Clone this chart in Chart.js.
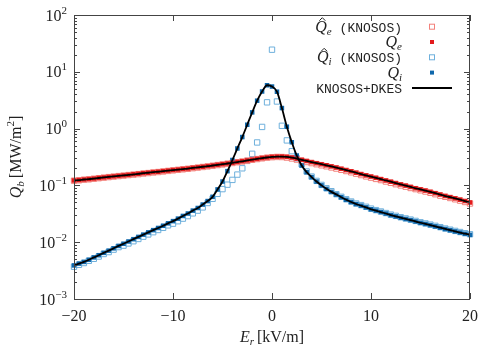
<!DOCTYPE html>
<html>
<head>
<meta charset="utf-8">
<script src="https://cdn.jsdelivr.net/npm/chart.js@4"></script>
<style>html,body{margin:0;background:#fff}</style>
</head>
<body>
<canvas id="c" width="498" height="349"></canvas>
<script>
// E_r grid (kV/m)
const er = [
  -20,-19.5,-19,-18.5,-18,-17.5,-17,-16.5,-16,-15.5,
  -15,-14.5,-14,-13.5,-13,-12.5,-12,-11.5,-11,-10.5,
  -10,-9.5,-9,-8.5,-8,-7.5,-7,-6.5,-6,-5.5,
  -5,-4.5,-4,-3.5,-3,-2.5,-2,-1.5,-1,-0.5,
  0,
  0.5,1,1.5,2,2.5,3,3.5,4,4.5,5,
  5.5,6,6.5,7,7.5,8,8.5,9,9.5,10,
  10.5,11,11.5,12,12.5,13,13.5,14,14.5,15,
  15.5,16,16.5,17,17.5,18,18.5,19,19.5,20
];
// Q_e (KNOSOS+DKES)
const qe = [
  0.122,0.124,0.127,0.129,0.132,0.135,0.138,0.141,0.144,0.147,
  0.150,0.153,0.157,0.160,0.164,0.167,0.171,0.174,0.178,0.182,
  0.186,0.190,0.194,0.198,0.203,0.208,0.213,0.218,0.224,0.230,
  0.236,0.243,0.250,0.258,0.266,0.275,0.284,0.293,0.302,0.310,
  0.317,
  0.321,0.322,0.318,0.309,0.296,0.282,0.269,0.257,0.246,0.236,
  0.226,0.216,0.206,0.196,0.186,0.177,0.167,0.158,0.150,0.143,
  0.136,0.129,0.122,0.116,0.110,0.104,0.099,0.094,0.089,0.085,
  0.081,0.077,0.073,0.069,0.065,0.062,0.059,0.056,0.053,0.050
];
// Q_e hat (KNOSOS)
const qeHat = [
  0.121,0.123,0.126,0.128,0.131,0.134,0.137,0.140,0.143,0.146,
  0.149,0.152,0.155,0.158,0.162,0.165,0.169,0.172,0.176,0.180,
  0.184,0.188,0.192,0.196,0.201,0.206,0.211,0.216,0.222,0.228,
  0.234,0.241,0.248,0.256,0.264,0.273,0.282,0.291,0.300,0.308,
  0.314,
  0.317,0.316,0.309,0.298,0.285,0.271,0.258,0.247,0.236,0.226,
  0.217,0.207,0.198,0.188,0.179,0.170,0.161,0.152,0.144,0.137,
  0.130,0.124,0.117,0.111,0.105,0.100,0.095,0.090,0.086,0.082,
  0.078,0.074,0.070,0.066,0.063,0.060,0.057,0.054,0.051,0.048
];
// Q_i (KNOSOS+DKES)
const qi = [
  0.0039,0.0042,0.0045,0.0049,0.0054,0.0059,0.0065,0.0071,0.0078,0.0086,
  0.0094,0.0103,0.0113,0.0124,0.0136,0.0149,0.0163,0.0178,0.0195,0.0215,
  0.0235,0.0260,0.0290,0.0320,0.0360,0.0400,0.0460,0.0530,0.0630,0.0850,
  0.117,0.178,0.280,0.447,0.710,1.17,1.93,3.10,4.50,5.80,
  5.50,
  4.46,2.30,1.08,0.575,0.336,0.224,0.171,0.140,0.117,0.100,
  0.087,0.077,0.069,0.062,0.056,0.051,0.047,0.044,0.041,0.038,
  0.036,0.034,0.032,0.030,0.0285,0.027,0.0257,0.0245,0.0232,0.022,
  0.021,0.020,0.019,0.018,0.0171,0.0163,0.0155,0.0148,0.0141,0.0135
];
// Q_i hat (KNOSOS)
const qiHat = [
  0.0037,0.0040,0.0043,0.0047,0.0051,0.0056,0.0062,0.0067,0.0074,0.0082,
  0.0087,0.0095,0.0104,0.0114,0.0125,0.0137,0.0150,0.0164,0.0179,0.0198,
  0.0212,0.0234,0.0260,0.0288,0.0322,0.0360,0.0410,0.0490,0.0580,0.0710,
  0.086,0.103,0.125,0.155,0.200,0.270,0.360,0.570,1.07,2.90,
  24.5,
  3.00,1.12,0.62,0.40,0.30,0.235,0.176,0.143,0.120,0.102,
  0.089,0.079,0.070,0.063,0.057,0.052,0.048,0.045,0.042,0.039,
  0.0367,0.0347,0.0326,0.0306,0.0291,0.0275,0.0262,0.025,0.0237,0.0224,
  0.0214,0.0204,0.0194,0.0184,0.0174,0.0166,0.0158,0.0151,0.0144,0.0138
];
const xTicks = [-20, -10, 0, 10, 20];
const xLabels = ["\u221220", "\u221210", "0", "10", "20"];
const yTicks = [1e-3, 1e-2, 1e-1, 1, 10, 100];
const yExp = ["\u22123", "\u22122", "\u22121", "0", "1", "2"];

const redDark = "#e31a1c", redLight = "#f3817b";
const blueDark = "#0f67ab", blueLight = "#6eb0dc";
const serif = '"Liberation Serif", "DejaVu Serif", serif';
const mono = '"Liberation Mono", "DejaVu Sans Mono", monospace';

const pts = (arr) => er.map((e, i) => ({ x: e, y: arr[i] }));

// draw text pieces one after the other, aligned as a block
function rich(ctx, segs, x, y, align) {
  let w = 0;
  segs.forEach((s) => {
    ctx.font = s.font;
    s.w = ctx.measureText(s.t).width;
    w += s.w + (s.gap || 0);
  });
  let cx = align === "right" ? x - w : align === "center" ? x - w / 2 : x;
  segs.forEach((s) => {
    ctx.font = s.font;
    ctx.fillText(s.t, cx, y + (s.dy || 0));
    if (s.hat) {
      // small circumflex over the Q
      const hx = cx + s.w * 0.62, hy = y - 13;
      ctx.save();
      ctx.strokeStyle = ctx.fillStyle;
      ctx.lineWidth = 1;
      ctx.beginPath();
      ctx.moveTo(hx - 3, hy + 2);
      ctx.lineTo(hx, hy - 1);
      ctx.lineTo(hx + 3, hy + 2);
      ctx.stroke();
      ctx.restore();
    }
    cx += s.w + (s.gap || 0);
  });
}

const frame = {
  id: "frame",
  afterDraw(chart) {
    const { ctx, chartArea: a, scales } = chart;
    const sx = scales.x, sy = scales.y;
    ctx.save();
    ctx.strokeStyle = "#444";
    ctx.lineWidth = 1;
    ctx.strokeRect(a.left + 0.5, a.top + 0.5, a.right - a.left - 1, a.bottom - a.top);
    ctx.beginPath();
    xTicks.forEach((v) => {
      const px = Math.round(sx.getPixelForValue(v)) + 0.5;
      ctx.moveTo(px, a.bottom); ctx.lineTo(px, a.bottom - 6);
      ctx.moveTo(px, a.top); ctx.lineTo(px, a.top + 6);
    });
    yTicks.forEach((v, k) => {
      const py = Math.round(sy.getPixelForValue(v)) + 0.5;
      ctx.moveTo(a.left, py); ctx.lineTo(a.left + 6, py);
      ctx.moveTo(a.right, py); ctx.lineTo(a.right - 6, py);
      if (k < yTicks.length - 1) {
        for (let m = 2; m < 10; m++) {
          const q = Math.round(sy.getPixelForValue(v * m)) + 0.5;
          ctx.moveTo(a.left, q); ctx.lineTo(a.left + 3, q);
          ctx.moveTo(a.right, q); ctx.lineTo(a.right - 3, q);
        }
      }
    });
    ctx.stroke();

    ctx.fillStyle = "#222";
    ctx.textBaseline = "alphabetic";
    ctx.textAlign = "left";
    // x tick labels
    xTicks.forEach((v, k) => {
      rich(ctx, [{ t: xLabels[k], font: "16px " + serif }], sx.getPixelForValue(v), 321, "center");
    });
    // y tick labels
    yTicks.forEach((v, k) => {
      const py = sy.getPixelForValue(v);
      rich(ctx, [
        { t: "10", font: "16px " + serif },
        { t: yExp[k], font: "11px " + serif, dy: -7 }
      ], 67, py + 5.5, "right");
    });
    // axis titles
    rich(ctx, [
      { t: "E", font: "italic 16px " + serif },
      { t: "r", font: "italic 11px " + serif, dy: 3, gap: 3 },
      { t: "[kV/m]", font: "16px " + serif }
    ], (a.left + a.right) / 2, 342, "center");
    ctx.save();
    ctx.translate(21, (a.top + a.bottom) / 2);
    ctx.rotate(-Math.PI / 2);
    rich(ctx, [
      { t: "Q", font: "italic 16px " + serif },
      { t: "b", font: "italic 11px " + serif, dy: 3, gap: 3 },
      { t: "[MW/m", font: "16px " + serif },
      { t: "2", font: "11px " + serif, dy: -7 },
      { t: "]", font: "16px " + serif }
    ], 0, 0, "center");
    ctx.restore();

    // legend
    const rows = [
      { segs: [{ t: "Q", font: "italic 16px " + serif, hat: true }, { t: "e", font: "italic 11px " + serif, dy: 3, gap: 8 }, { t: "(KNOSOS)", font: "13px " + mono }], mark: "open", col: redLight },
      { segs: [{ t: "Q", font: "italic 16px " + serif }, { t: "e", font: "italic 11px " + serif, dy: 3 }], mark: "fill", col: redDark },
      { segs: [{ t: "Q", font: "italic 16px " + serif, hat: true }, { t: "i", font: "italic 11px " + serif, dy: 3, gap: 8 }, { t: "(KNOSOS)", font: "13px " + mono }], mark: "open", col: blueLight },
      { segs: [{ t: "Q", font: "italic 16px " + serif }, { t: "i", font: "italic 11px " + serif, dy: 3 }], mark: "fill", col: blueDark },
      { segs: [{ t: "KNOSOS+DKES", font: "13px " + mono }], mark: "line", col: "#000" }
    ];
    rows.forEach((r, k) => {
      const cy = 26.7 + k * 15.3;
      ctx.fillStyle = "#222";
      rich(ctx, r.segs, 402, cy + 5, "right");
      if (r.mark === "open") {
        ctx.strokeStyle = r.col; ctx.lineWidth = 1;
        ctx.strokeRect(429.5, cy - 2.5, 5, 5);
      } else if (r.mark === "fill") {
        ctx.fillStyle = r.col;
        ctx.fillRect(430, cy - 2, 4, 4);
      } else {
        ctx.strokeStyle = "#000"; ctx.lineWidth = 2;
        ctx.beginPath(); ctx.moveTo(412, cy); ctx.lineTo(452, cy); ctx.stroke();
      }
    });
    ctx.restore();
  }
};

new Chart(document.getElementById("c"), {
  type: "scatter",
  data: {
    datasets: [
      { label: "Qe hat", data: pts(qeHat), order: 3, clip: false, pointStyle: "rect", pointRadius: 3.8, pointBorderWidth: 1, pointBorderColor: redLight, pointBackgroundColor: "rgba(0,0,0,0)", showLine: false },
      { label: "Qi hat", data: pts(qiHat), order: 3, clip: false, pointStyle: "rect", pointRadius: 3.8, pointBorderWidth: 1, pointBorderColor: blueLight, pointBackgroundColor: "rgba(0,0,0,0)", showLine: false },
      { label: "Qe", data: pts(qe), order: 2, clip: false, pointStyle: "rect", pointRadius: 3.2, pointBorderWidth: 0, pointBackgroundColor: redDark, showLine: false },
      { label: "Qi", data: pts(qi), order: 2, clip: false, pointStyle: "rect", pointRadius: 3.2, pointBorderWidth: 0, pointBackgroundColor: blueDark, showLine: false },
      { label: "line e", data: pts(qe), order: 1, showLine: true, pointRadius: 0, borderColor: "#000", borderWidth: 1.8, cubicInterpolationMode: "monotone" },
      { label: "line i", data: pts(qi), order: 1, showLine: true, pointRadius: 0, borderColor: "#000", borderWidth: 1.8, cubicInterpolationMode: "monotone" }
    ]
  },
  options: {
    responsive: false,
    animation: false,
    devicePixelRatio: 1,
    layout: { padding: { top: 15, right: 28, left: 0, bottom: 0 } },
    plugins: { legend: { display: false }, tooltip: { enabled: false } },
    scales: {
      x: {
        type: "linear", min: -20, max: 20,
        ticks: { display: false }, grid: { display: false }, border: { display: false },
        afterFit(s) { s.height = 50; }
      },
      y: {
        type: "logarithmic", min: 1e-3, max: 100,
        ticks: { display: false }, grid: { display: false }, border: { display: false },
        afterFit(s) { s.width = 74; }
      }
    }
  },
  plugins: [frame]
});
</script>
</body>
</html>
